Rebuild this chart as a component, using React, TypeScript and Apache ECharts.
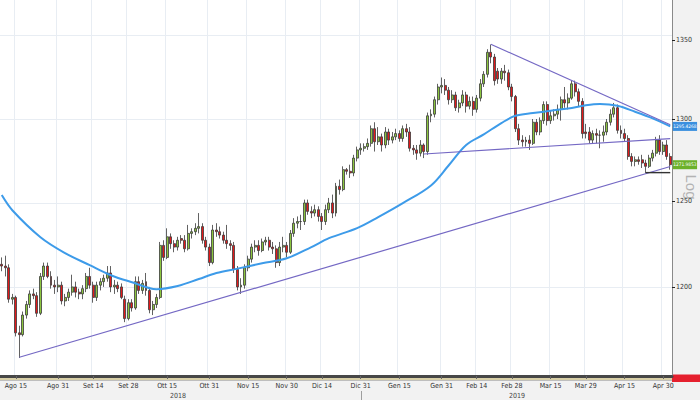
import React, { useEffect, useRef } from "react";
import * as echarts from "echarts";

// ---------- categories (trading days) ----------
const startDate = "2018-08-09";
const endDate = "2019-05-02";
function weekdays(a: string, b: string): string[] {
  const out: string[] = [];
  const d = new Date(a + "T00:00:00Z");
  const e = new Date(b + "T00:00:00Z");
  while (d <= e) {
    const w = d.getUTCDay();
    if (w !== 0 && w !== 6) out.push(d.toISOString().slice(0, 10));
    d.setUTCDate(d.getUTCDate() + 1);
  }
  return out;
}
const dates = weekdays(startDate, endDate);

// ---------- OHLC ----------
const opens = [
  1213, 1212, 1211, 1193, 1194, 1174, 1173, 1184, 1190, 1196,
  1195, 1185, 1206, 1212, 1206, 1201, 1200, 1201, 1192, 1194,
  1197, 1200, 1197, 1196, 1199, 1206, 1201, 1194, 1201, 1203,
  1205, 1208, 1200, 1201, 1200, 1193, 1182, 1191, 1188, 1203,
  1198, 1203, 1198, 1187, 1190, 1194, 1224, 1217, 1229, 1225,
  1223, 1228, 1227, 1222, 1231, 1232, 1234, 1235, 1227, 1223,
  1214, 1233, 1232, 1230, 1227, 1225, 1224, 1210, 1200, 1201,
  1211, 1216, 1223, 1224, 1221, 1226, 1227, 1223, 1222, 1214,
  1223, 1224, 1220, 1231, 1237, 1238, 1238, 1249, 1244, 1243,
  1245, 1241, 1238, 1245, 1249, 1243, 1259, 1257, 1269, 1268,
  1267, 1276, 1281, 1282, 1283, 1285, 1294, 1286, 1289, 1284,
  1292, 1287, 1289, 1291, 1288, 1294, 1292, 1282, 1281, 1279,
  1284, 1280, 1302, 1303, 1312, 1320, 1321, 1318, 1312, 1315,
  1307, 1310, 1315, 1308, 1311, 1306, 1313, 1322, 1328, 1342,
  1339, 1330, 1325, 1330, 1329, 1320, 1314, 1294, 1287, 1286,
  1287, 1285, 1298, 1292, 1299, 1309, 1299, 1302, 1303, 1306,
  1312, 1310, 1313, 1322, 1317, 1311, 1292, 1292, 1287, 1291,
  1290, 1290, 1292, 1298, 1303, 1307, 1293, 1291, 1288, 1277,
  1274, 1275, 1275, 1273, 1271, 1276, 1279, 1287, 1280, 1284,
  1277,
];
const closes = [
  1212, 1211, 1193, 1194, 1174, 1173, 1184, 1190, 1196, 1195,
  1185, 1206, 1212, 1206, 1201, 1200, 1201, 1192, 1194, 1197,
  1200, 1197, 1196, 1199, 1206, 1201, 1194, 1201, 1203, 1205,
  1208, 1200, 1201, 1199, 1194, 1182, 1191, 1188, 1203, 1198,
  1202, 1198, 1187, 1190, 1194, 1224, 1217, 1229, 1225, 1223,
  1227, 1227, 1222, 1231, 1232, 1234, 1235, 1227, 1223, 1214,
  1233, 1232, 1230, 1227, 1225, 1224, 1210, 1200, 1201, 1211,
  1216, 1223, 1224, 1221, 1226, 1227, 1223, 1222, 1214, 1223,
  1224, 1220, 1231, 1237, 1238, 1238, 1249, 1244, 1243, 1245,
  1241, 1238, 1245, 1249, 1243, 1259, 1257, 1269, 1268, 1267,
  1276, 1281, 1282, 1283, 1285, 1294, 1286, 1289, 1284, 1292,
  1287, 1289, 1291, 1288, 1294, 1292, 1282, 1281, 1279, 1284,
  1280, 1302, 1303, 1312, 1320, 1321, 1318, 1312, 1315, 1307,
  1310, 1315, 1308, 1311, 1306, 1313, 1322, 1328, 1342, 1339,
  1324, 1325, 1330, 1329, 1320, 1314, 1294, 1287, 1286, 1287,
  1285, 1298, 1292, 1299, 1309, 1299, 1302, 1303, 1306, 1312,
  1310, 1313, 1322, 1317, 1311, 1291, 1291, 1287, 1291, 1290,
  1290, 1292, 1298, 1303, 1307, 1293, 1291, 1288, 1277, 1274,
  1275, 1274, 1273, 1271, 1276, 1279, 1287, 1280, 1284, 1277,
  1271.99,
];
const lows = [
  1209, 1206, 1191, 1190, 1172, 1160, 1172, 1182, 1188, 1193,
  1183, 1184, 1204, 1205, 1199, 1196, 1197, 1190, 1189, 1192,
  1195, 1194, 1193, 1193, 1197, 1199, 1191, 1192, 1198, 1200,
  1203, 1197, 1196, 1197, 1193, 1180, 1181, 1186, 1187, 1196,
  1196, 1195, 1185, 1184, 1188, 1193, 1215, 1216, 1222, 1220,
  1221, 1225, 1220, 1221, 1228, 1230, 1231, 1225, 1221, 1212,
  1213, 1229, 1228, 1225, 1222, 1221, 1208, 1198, 1196, 1199,
  1209, 1214, 1220, 1218, 1220, 1224, 1221, 1219, 1211, 1212,
  1220, 1217, 1219, 1229, 1234, 1233, 1236, 1242, 1240, 1241,
  1238, 1233, 1236, 1243, 1240, 1241, 1254, 1256, 1266, 1264,
  1265, 1274, 1278, 1280, 1281, 1283, 1280, 1284, 1280, 1282,
  1284, 1285, 1287, 1286, 1286, 1289, 1280, 1278, 1275, 1277,
  1276, 1278, 1298, 1301, 1309, 1316, 1315, 1309, 1310, 1305,
  1304, 1308, 1304, 1306, 1302, 1304, 1311, 1320, 1326, 1335,
  1321, 1322, 1322, 1324, 1318, 1311, 1292, 1284, 1283, 1283,
  1281, 1284, 1290, 1290, 1297, 1296, 1297, 1299, 1300, 1299,
  1307, 1306, 1312, 1314, 1308, 1288, 1288, 1285, 1285, 1285,
  1282, 1286, 1290, 1296, 1301, 1291, 1288, 1286, 1275, 1271,
  1271, 1272, 1270, 1267, 1270, 1274, 1277, 1278, 1278, 1275,
  1269,
];
const highs = [
  1217, 1218, 1213, 1196, 1195, 1178, 1186, 1192, 1198, 1199,
  1197, 1208, 1214, 1214, 1209, 1204, 1206, 1203, 1196, 1199,
  1207, 1203, 1199, 1201, 1208, 1211, 1203, 1203, 1205, 1207,
  1212, 1212, 1204, 1203, 1202, 1195, 1193, 1193, 1206, 1206,
  1204, 1208, 1200, 1192, 1196, 1226, 1227, 1234, 1231, 1227,
  1229, 1230, 1230, 1236, 1234, 1237, 1243, 1237, 1229, 1225,
  1236, 1237, 1235, 1232, 1236, 1227, 1226, 1212, 1205, 1213,
  1218, 1225, 1227, 1227, 1228, 1229, 1229, 1226, 1224, 1226,
  1229, 1226, 1233, 1240, 1241, 1242, 1251, 1251, 1247, 1248,
  1247, 1243, 1248, 1252, 1254, 1261, 1263, 1271, 1270, 1272,
  1278, 1283, 1285, 1285, 1288, 1296, 1298, 1295, 1291, 1295,
  1294, 1292, 1294, 1293, 1296, 1297, 1295, 1284, 1284, 1287,
  1285, 1304, 1306, 1314, 1322, 1326, 1325, 1320, 1318, 1317,
  1312, 1318, 1317, 1314, 1314, 1315, 1325, 1330, 1344, 1347,
  1341, 1332, 1332, 1334, 1331, 1322, 1315, 1297, 1290, 1289,
  1290, 1300, 1300, 1301, 1311, 1311, 1305, 1306, 1309, 1314,
  1320, 1316, 1324, 1324, 1319, 1313, 1297, 1295, 1293, 1294,
  1293, 1296, 1300, 1306, 1310, 1309, 1296, 1294, 1290, 1279,
  1277, 1277, 1278, 1275, 1278, 1281, 1289, 1290, 1286, 1287,
  1279,
];

// ---------- moving average ----------
const maDates = [
  "2018-08-09", "2018-08-14", "2018-08-24", "2018-09-04", "2018-09-13", "2018-09-21",
  "2018-10-01", "2018-10-10", "2018-10-18", "2018-10-26", "2018-11-02", "2018-11-12",
  "2018-11-21", "2018-11-30", "2018-12-11", "2018-12-18", "2018-12-28", "2019-01-07",
  "2019-01-16", "2019-01-28", "2019-02-04", "2019-02-11", "2019-02-18", "2019-02-25",
  "2019-03-01", "2019-03-08", "2019-03-15", "2019-03-22", "2019-03-29", "2019-04-04",
  "2019-04-11", "2019-04-18", "2019-04-25", "2019-05-02",
];
const maValues = [
  1253.7, 1244.7, 1228.8, 1219.5, 1212.5, 1206.7,
  1202.7, 1198.7, 1200.5, 1204.5, 1208.0, 1210.5,
  1213.6, 1216.5, 1223.0, 1228.2, 1234.1, 1240.6,
  1248.9, 1259.5, 1271.5, 1284.0, 1290.5, 1297.5,
  1302.0, 1303.7, 1305.2, 1306.5, 1308.5, 1309.3,
  1308.2, 1304.5, 1300.4, 1295.4268,
];
const lastClose = 1271.9853;
const lastMA = 1295.4268;

// ---------- trend lines ----------
const supportLine = { dates: ["2018-08-16", "2019-05-02"], values: [1160.4, 1270.9] };
const resistanceLine = { dates: ["2019-02-20", "2019-05-02"], values: [1347.2, 1296.5] };
const neckLine = { dates: ["2019-01-24", "2019-05-02"], values: [1278.5, 1287.9] };
const floorLine = { dates: ["2019-04-23", "2019-05-02"], values: [1267.2, 1267.2] };

// ---------- axes ----------
const labelDates = [
  "2018-08-15", "2018-08-31", "2018-09-14", "2018-09-28", "2018-10-15", "2018-10-31",
  "2018-11-15", "2018-11-30", "2018-12-14", "2018-12-31", "2019-01-15", "2019-01-31",
  "2019-02-14", "2019-02-28", "2019-03-15", "2019-03-29", "2019-04-15", "2019-04-30",
];
const monthNames = ["Gen", "Feb", "Mar", "Apr", "Mag", "Giu", "Lug", "Ago", "Set", "Ott", "Nov", "Dic"];
const yearLabels = ["2018", "2019"];
const yTicks = [1200, 1250, 1300, 1350];
const yMin = 1150.1;
const yMax = 1375.9;

const FONT = "'Liberation Sans Narrow','DejaVu Sans Condensed','Liberation Sans',Arial,sans-serif";

export default function App() {
  const ref = useRef<HTMLDivElement>(null);
  useEffect(() => {
    if (!ref.current) return;
    const chart = echarts.init(ref.current, undefined, { renderer: "svg" });
    const L = Math.log;
    const labelSet = new Set(labelDates);
    const isLabel = (_i: number, v: string) => labelSet.has(v);
    const fmtDate = (v: string) => {
      const p = v.split("-");
      return monthNames[Number(p[1]) - 1] + " " + Number(p[2]);
    };
    const candle = dates.map((_, i) => [L(opens[i]), L(closes[i]), L(lows[i]), L(highs[i])]);
    const lastDate = dates[dates.length - 1];
    const trend = (t: { dates: string[]; values: number[] }, color: string, w: number) => ({
      type: "line",
      data: t.dates.map((d, i) => [d, L(t.values[i])]),
      symbol: "none",
      lineStyle: { color, width: w },
      z: 4,
      silent: true,
    });
    const tag = (value: number, bg: string) => ({
      symbol: "rect",
      symbolSize: [1, 1],
      itemStyle: { color: "rgba(0,0,0,0)" },
      label: {
        show: true,
        position: "right",
        distance: 2,
        formatter: value.toFixed(4),
        color: "#ffffff",
        backgroundColor: bg,
        fontSize: 4.8,
        lineHeight: 7,
        padding: [1, 0.5, 1, 0.5],
        fontFamily: FONT,
      },
    });

    chart.setOption({
      animation: false,
      backgroundColor: "#f2f2f2",
      grid: { left: 0, right: 28, top: 0, bottom: 24, show: true, backgroundColor: "#ffffff", borderWidth: 0 },
      xAxis: {
        type: "category",
        data: dates,
        boundaryGap: true,
        axisLine: { lineStyle: { color: "#474747", width: 3 } },
        axisTick: { show: true, interval: isLabel, alignWithLabel: true, length: 3, lineStyle: { color: "#666" } },
        axisLabel: { interval: isLabel, formatter: fmtDate, fontSize: 7, color: "#333", margin: 6, fontFamily: FONT },
        splitLine: { show: true, interval: isLabel, lineStyle: { color: "#e8edf3", width: 1 } },
      },
      yAxis: {
        type: "value",
        position: "right",
        min: L(yMin),
        max: L(yMax),
        axisLine: { show: true, lineStyle: { color: "#8a8a8a", width: 1 } },
        axisTick: { show: true, customValues: yTicks.map(L), length: 3, lineStyle: { color: "#222" } },
        axisLabel: {
          customValues: yTicks.map(L),
          formatter: (v: number) => String(Math.round(Math.exp(v))),
          fontSize: 7,
          color: "#333",
          margin: 4,
          fontFamily: FONT,
        },
        splitLine: { show: false },
      },
      series: [
        {
          type: "candlestick",
          data: candle,
          barWidth: "70%",
          itemStyle: {
            color: "#8cc63f",
            color0: "#e3191b",
            borderColor: "#3a3a3a",
            borderColor0: "#3a3a3a",
            borderWidth: 0.8,
          },
          z: 2,
          markLine: {
            silent: true,
            symbol: "none",
            z: 1,
            label: { show: false },
            lineStyle: { color: "#e8edf3", type: "solid", width: 1 },
            data: yTicks.map((v) => ({ yAxis: L(v) })),
          },
          markPoint: { ...tag(lastClose, "#6cb12a"), data: [{ coord: [lastDate, L(lastClose)] }] },
        },
        {
          type: "line",
          data: maDates.map((d, i) => [d, L(maValues[i])]),
          smooth: 0.35,
          symbol: "none",
          lineStyle: { color: "#3d9be9", width: 2 },
          z: 3,
          silent: true,
          markPoint: { ...tag(lastMA, "#3a8fdf"), data: [{ coord: [lastDate, L(lastMA)] }] },
        },
        trend(supportLine, "#7468c4", 1.2),
        trend(resistanceLine, "#7468c4", 1.2),
        trend(neckLine, "#7468c4", 1.2),
        trend(floorLine, "#333333", 1.4),
      ],
      graphic: [
        { type: "rect", shape: { x: 0, y: 377.5, width: 672, height: 2.5 }, style: { fill: "#d8cfa6" }, silent: true },
        { type: "line", shape: { x1: 0, y1: 380.5, x2: 672, y2: 380.5 }, style: { stroke: "#9a9a9a", lineWidth: 0.6 }, silent: true },
        { type: "rect", shape: { x: 672, y: 374.5, width: 28, height: 7.5 }, style: { fill: "#e5202e" }, silent: true },
        { type: "line", shape: { x1: 361.5, y1: 391, x2: 361.5, y2: 400 }, style: { stroke: "#888", lineWidth: 0.8 }, silent: true },
        {
          type: "text", x: 178, y: 396,
          style: { text: yearLabels[0], fontSize: 7, fill: "#444", align: "center", verticalAlign: "middle", fontFamily: FONT },
        },
        {
          type: "text", x: 517, y: 396,
          style: { text: yearLabels[1], fontSize: 7, fill: "#444", align: "center", verticalAlign: "middle", fontFamily: FONT },
        },
        {
          type: "text", x: 691, y: 187, rotation: -Math.PI / 2,
          style: { text: "Log", fontSize: 15, fill: "#b3b3b3", align: "center", verticalAlign: "middle", fontFamily: "'Liberation Sans',Arial,sans-serif" },
        },
      ],
    });
    return () => chart.dispose();
  }, []);
  return <div ref={ref} style={{ position: "fixed", left: 0, top: 0, width: 700, height: 400 }} />;
}
